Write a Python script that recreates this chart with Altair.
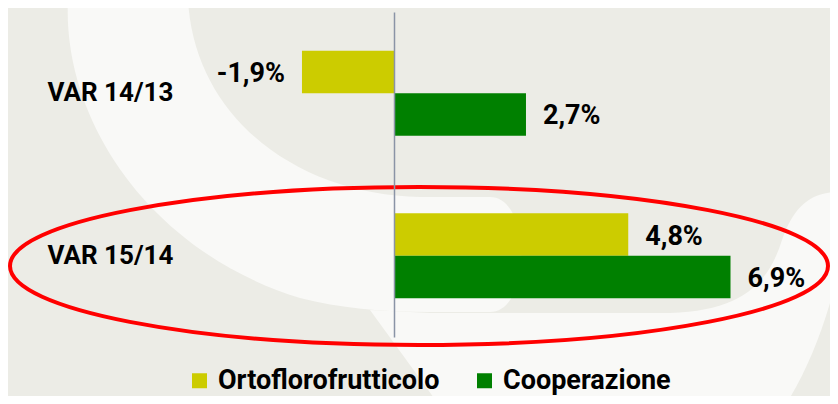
import altair as alt
import pandas as pd

# ---------------- data ----------------
categories = ["VAR 14/13", "VAR 15/14"]
series = ["Ortoflorofrutticolo", "Cooperazione"]
ortoflorofrutticolo = [-1.9, 4.8]
cooperazione = [2.7, 6.9]
colors = ["#CCCC00", "#008000"]

rows = []
for s, vals in zip(series, [ortoflorofrutticolo, cooperazione]):
    for c, v in zip(categories, vals):
        rows.append({"cat": c, "serie": s, "val": v,
                     "label": f"{v:.1f}".replace(".", ",") + "%"})
df = pd.DataFrame(rows)

# ---------------- style ----------------
BG = "#ECECE6"
WHITE = "#F9F9F7"
FONT = "Roboto"
OX, OY = 200, 12          # plot origin on the page
one = pd.DataFrame({"k": [0]})


def ellipse_path(cx, cy, rx, ry):
    k = 0.5523
    return (f"M {cx-rx} {cy} "
            f"C {cx-rx} {cy-k*ry} {cx-k*rx} {cy-ry} {cx} {cy-ry} "
            f"C {cx+k*rx} {cy-ry} {cx+rx} {cy-k*ry} {cx+rx} {cy} "
            f"C {cx+rx} {cy+k*ry} {cx+k*rx} {cy+ry} {cx} {cy+ry} "
            f"C {cx-k*rx} {cy+ry} {cx-rx} {cy+k*ry} {cx-rx} {cy} Z")


def deco(path, **kw):
    return alt.Chart(one).mark_point(shape=path, size=4, opacity=1, **kw).encode(
        x=alt.value(-OX), y=alt.value(-OY))


c_path = ("M 60 -20 L 68 0 C 62 120 150 252 300 298 C 340 308 380 312 430 312 "
          "L 490 312 C 532 312 532 197 490 197 L 420 197 C 300 195 195 120 188 0 "
          "L 188 -20 Z")
band_path = ("M 370 310 L 450 420 L 775 420 C 805 380 830 320 845 240 L 845 192 "
             "C 812 190 794 205 782 240 C 768 285 740 313 660 313 L 430 313 Z")

white_c = deco(c_path, filled=True, fill=WHITE, strokeWidth=0)
white_band = deco(band_path, filled=True, fill=WHITE, strokeWidth=0)
red_ellipse = deco(ellipse_path(419, 266, 409, 79), filled=False,
                   stroke="#FF0000", strokeWidth=4)

# ---------------- encodings ----------------
y_enc = alt.Y("cat:N",
              scale=alt.Scale(domain=categories, paddingInner=0.477,
                              paddingOuter=0.2385),
              axis=alt.Axis(title=None, domain=False, ticks=False, grid=False,
                            labelAlign="left", labelPadding=153,
                            labelFontSize=26, labelFont=FONT,
                            labelFontWeight="bold", labelColor="#000000",
                            labelBaseline="middle", labelLimit=300,
                            zindex=2))
x_scale = alt.Scale(domain=[-3.994, 8.943], nice=False)
x_enc = alt.X("val:Q", scale=x_scale,
              axis=alt.Axis(values=[0], grid=True, gridColor="#8A94A6",
                            gridWidth=1.5, gridOpacity=1, labels=False,
                            ticks=False, domain=False, title=None, zindex=1))
yoff = alt.YOffset("serie:N", scale=alt.Scale(domain=series))

bars = alt.Chart(df).mark_bar().encode(
    x=x_enc, y=y_enc, yOffset=yoff,
    color=alt.Color("serie:N",
                    scale=alt.Scale(domain=series, range=colors),
                    legend=alt.Legend(title=None, orient="none", legendX=-14,
                                      legendY=355, direction="horizontal",
                                      symbolType="square", symbolSize=225,
                                      symbolStrokeWidth=0, symbolOpacity=1,
                                      labelFontSize=27, labelFont=FONT,
                                      labelFontWeight="bold",
                                      labelColor="#000000", labelOffset=5,
                                      labelLimit=500,
                                      columnPadding=31, padding=0)))

text_common = dict(baseline="middle", font=FONT, fontSize=27,
                   fontWeight="bold", color="#000000", dy=2)
pos_text = alt.Chart(df).transform_filter("datum.val >= 0").mark_text(
    align="left", dx=17, **text_common).encode(
    x=x_enc, y=y_enc, yOffset=yoff, text="label:N")
neg_text = alt.Chart(df).transform_filter("datum.val < 0").mark_text(
    align="right", dx=-17, **text_common).encode(
    x=x_enc, y=y_enc, yOffset=yoff, text="label:N")

chart = alt.layer(
    white_c, white_band, bars, pos_text, neg_text, red_ellipse
).properties(
    width=630, height=325,
    padding={"left": 192, "top": 4, "right": 0, "bottom": 59},
    autosize=alt.AutoSizeParams(type="none"),
    background=BG,
).configure_view(stroke=None)

chart.save("out.html", embed_options={"renderer": "svg", "actions": False})
